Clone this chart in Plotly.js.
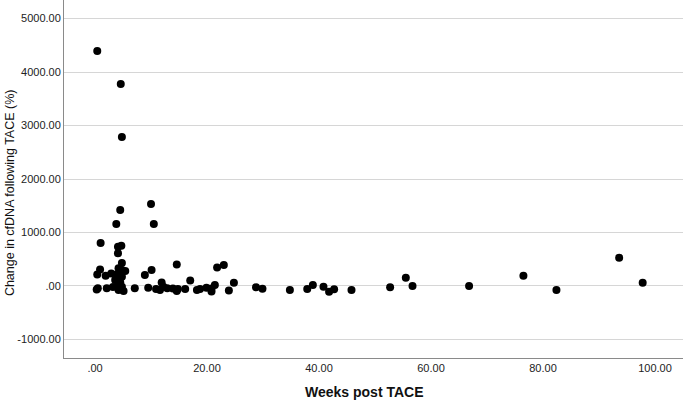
<!DOCTYPE html>
<html>
<head>
<meta charset="utf-8">
<script src="https://cdn.plot.ly/plotly-3.0.1.min.js"></script>
<style>html,body{margin:0;padding:0;background:#fff;}#chart{width:685px;height:401px;}</style>
</head>
<body>
<div id="chart"></div>
<script>
// Weeks post TACE
var weeks = [0.4, 4.6, 4.8, 4.5, 3.8, 1.0, 4.1, 4.7, 4.1, 4.8,
  0.9, 0.4, 1.9, 2.9, 4.2, 4.8, 5.4, 3.9, 4.2, 4.8,
  3.6, 4.5, 4.8, 3.9, 4.2, 5.1, 0.5, 0.3, 2.1, 3.2,
  7.1, 9.5, 8.9, 10.1, 10.0, 10.5, 10.9, 11.9, 12.2, 11.6,
  12.9, 13.9, 14.6, 14.6, 14.8, 16.1, 17.0, 18.2, 18.75, 19.9,
  20.8, 21.4, 20.8, 21.8, 23.0, 23.9, 24.8, 28.75, 29.9, 34.8,
  37.9, 38.9, 40.8, 41.8, 42.7, 45.8, 52.7, 55.5, 56.7, 66.8,
  76.5, 82.4, 93.6, 97.8];
// Change in cfDNA following TACE (%)
var change = [4392, 3775, 2785, 1420, 1159, 804, 735, 753, 611, 430,
  308, 215, 193, 234, 331, 299, 280, 219, 144, 174,
  112, 69, -13, -13, -75, -93, -43, -65, -43, -19,
  -43, -32, 206, 299, 1533, 1159, -56, 65, -13, -75,
  -43, -47, -93, 402, -56, -56, 103, -75, -56, -32,
  -47, 19, -103, 346, 392, -84, 62, -24, -50, -75,
  -56, 19, -13, -107, -62, -75, -24, 155, 0, 0,
  193, -75, 529, 62];

var yTickVals = [-1000, 0, 1000, 2000, 3000, 4000, 5000];
var yTickText = ["-1000.00", ".00", "1000.00", "2000.00", "3000.00", "4000.00", "5000.00"];
var xTickVals = [0, 20, 40, 60, 80, 100];
var xTickText = [".00", "20.00", "40.00", "60.00", "80.00", "100.00"];

var trace = {
  x: weeks, y: change, type: 'scatter', mode: 'markers',
  marker: {color: '#000000', size: 8, line: {width: 0}},
  hoverinfo: 'x+y'
};

var fam = 'Liberation Sans, Arial, sans-serif';
var layout = {
  width: 685, height: 401,
  margin: {l: 64, r: 2, t: 0, b: 43, pad: 0},
  paper_bgcolor: '#ffffff', plot_bgcolor: '#ffffff',
  showlegend: false,
  font: {family: fam, size: 11, color: '#222'},
  xaxis: {
    range: [-5.54, 105.0],
    tickvals: xTickVals, ticktext: xTickText,
    showgrid: false, zeroline: false,
    showline: true, linecolor: '#8a8a8a', linewidth: 1,
    ticks: '', ticklen: 0,
    tickfont: {family: fam, size: 11, color: '#222'}
  },
  yaxis: {
    range: [-1346, 5346],
    tickvals: yTickVals, ticktext: yTickText,
    showgrid: true, gridcolor: '#d6d6d6', gridwidth: 1,
    zeroline: false,
    showline: true, linecolor: '#8a8a8a', linewidth: 1,
    ticks: '', ticklen: 0,
    tickfont: {family: fam, size: 11, color: '#222'}
  },
  annotations: [
    {text: 'Change in cfDNA following TACE (%)', xref: 'paper', yref: 'paper',
     x: -0.087, y: 0.461, xanchor: 'center', yanchor: 'middle', textangle: -90,
     showarrow: false, font: {family: fam, size: 12.5, color: '#111'}},
    {text: '<b>Weeks post TACE</b>', xref: 'paper', yref: 'paper',
     x: 0.486, y: -0.095, xanchor: 'center', yanchor: 'middle',
     showarrow: false, font: {family: fam, size: 14, color: '#111'}}
  ]
};

Plotly.newPlot('chart', [trace], layout, {displayModeBar: false, staticPlot: true});
</script>
</body>
</html>
